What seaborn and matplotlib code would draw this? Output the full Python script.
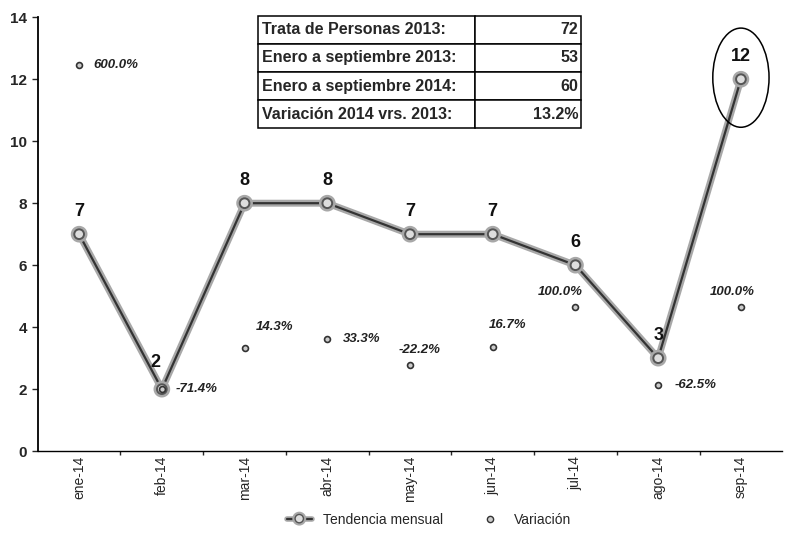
import matplotlib
matplotlib.use('Agg')
import matplotlib.pyplot as plt
import matplotlib.patheffects as pe
from matplotlib.patches import Ellipse
from matplotlib.lines import Line2D
import seaborn as sns
import pandas as pd

# data
months = ['ene-14', 'feb-14', 'mar-14', 'abr-14', 'may-14', 'jun-14', 'jul-14', 'ago-14', 'sep-14']
tendencia = [7, 2, 8, 8, 7, 7, 6, 3, 12]
variacion = [600.0, -71.4, 14.3, 33.3, -22.2, 16.7, 100.0, -62.5, 100.0]

table_labels = ['Trata de Personas 2013:', 'Enero a septiembre 2013:',
                'Enero a septiembre 2014:', 'Variación 2014 vrs. 2013:']
table_values = ['72', '53', '60', '13.2%']

sns.set_style('white')
plt.rcParams['font.family'] = ['Liberation Sans Narrow', 'Liberation Sans', 'DejaVu Sans']

df = pd.DataFrame({'mes': months, 'tendencia': tendencia, 'variacion': variacion})
df['x'] = range(len(df))

fig = plt.figure(figsize=(7.87, 5.39), dpi=100)
ax = fig.add_axes([0.048, 0.163, 0.946, 0.805])

# monthly trend line with grey halo
sns.lineplot(data=df, x='x', y='tendencia', ax=ax, color='#333333', lw=1.6,
             marker='o', markersize=7, markerfacecolor='#dddddd',
             markeredgecolor='#555555', markeredgewidth=1.4,
             path_effects=[pe.Stroke(linewidth=5, foreground='#a8a8a8'), pe.Normal()])

# value labels
for i, v in enumerate(tendencia):
    dx, dy = (-5, 13) if v == 2 else (0, 10)
    ax.annotate(str(v), (i, v), xytext=(dx, dy), textcoords='offset points',
                ha='center', va='bottom', fontsize=13, fontweight='bold', color='#111111')

ax.set_xlim(-0.5, len(months) - 0.5)
ax.set_ylim(0, 14)
ax.set_yticks(range(0, 15, 2))
ax.set_xticks(range(len(months)))
ax.set_xticklabels(months, rotation=90, fontsize=10)
ax.tick_params(axis='y', labelsize=11, length=4, width=1, direction='out', left=True)
ax.tick_params(axis='x', length=0)
ax.set_xticks([i + 0.5 for i in range(len(months) - 1)], minor=True)
ax.tick_params(axis='x', which='minor', length=3, width=1, direction='out', bottom=True)
ax.set_xlabel('')
ax.set_ylabel('')
for s in ['top', 'right']:
    ax.spines[s].set_visible(False)
ax.spines['left'].set_color('black')
ax.spines['left'].set_linewidth(1.3)
ax.spines['bottom'].set_color('black')
ax.spines['bottom'].set_linewidth(1.0)
for lab in ax.get_yticklabels():
    lab.set_fontweight('bold')

# variation on hidden secondary axis
ax2 = ax.twinx()
sns.scatterplot(data=df, x='x', y='variacion', ax=ax2, s=18, color='#cccccc',
                edgecolor='#333333', linewidth=1.2, zorder=3)
ax2.set_ylim(-200, 700)
ax2.set_xlim(ax.get_xlim())
ax2.axis('off')

offsets = [(10, 0, 'left', 'center'), (10, 0, 'left', 'center'),
           (8, 11, 'left', 'bottom'), (11, 0, 'left', 'center'),
           (7, 7, 'center', 'bottom'), (11, 11, 'center', 'bottom'),
           (-11, 6, 'center', 'bottom'), (12, 0, 'left', 'center'),
           (-6, 6, 'center', 'bottom')]
for i, p in enumerate(variacion):
    ox, oy, ha, va = offsets[i]
    ax2.annotate(f'{p:.1f}%', (i, p), xytext=(ox, oy), textcoords='offset points',
                 ha=ha, va=va, fontsize=9.5, fontstyle='italic', fontweight='bold',
                 color='#222222')

# circle around last month
last = len(tendencia) - 1
ax.add_patch(Ellipse((last, tendencia[last] + 0.05), 0.68, 3.2, fill=False,
                     edgecolor='black', lw=1.1, zorder=5))

# summary table
tbl = ax.table(cellText=[[a, b] for a, b in zip(table_labels, table_values)],
               cellLoc='right', colWidths=[0.674, 0.326],
               bbox=[0.296, 0.744, 0.433, 0.26])
tbl.auto_set_font_size(False)
tbl.set_fontsize(11.5)
for (r, c), cell in tbl.get_celld().items():
    cell.set_edgecolor('black')
    cell.set_linewidth(1.1)
    cell.get_text().set_fontweight('bold')
    cell.PAD = 0.02
    if c == 0:
        cell.get_text().set_ha('left')

handles = [Line2D([0], [0], color='#333333', lw=1.6, marker='o', markersize=6,
                  markerfacecolor='#dddddd', markeredgecolor='#555555',
                  path_effects=[pe.Stroke(linewidth=4, foreground='#a8a8a8'), pe.Normal()]),
           Line2D([0], [0], lw=0, marker='o', markersize=4.5, markerfacecolor='#cccccc',
                  markeredgecolor='#333333')]
fig.legend(handles, ['Tendencia mensual', 'Variación'], loc='lower center',
           bbox_to_anchor=(0.545, 0.0), ncol=2, frameon=False, fontsize=10,
           handlelength=1.8, columnspacing=2.5)

fig.savefig('out.png', dpi=100)
